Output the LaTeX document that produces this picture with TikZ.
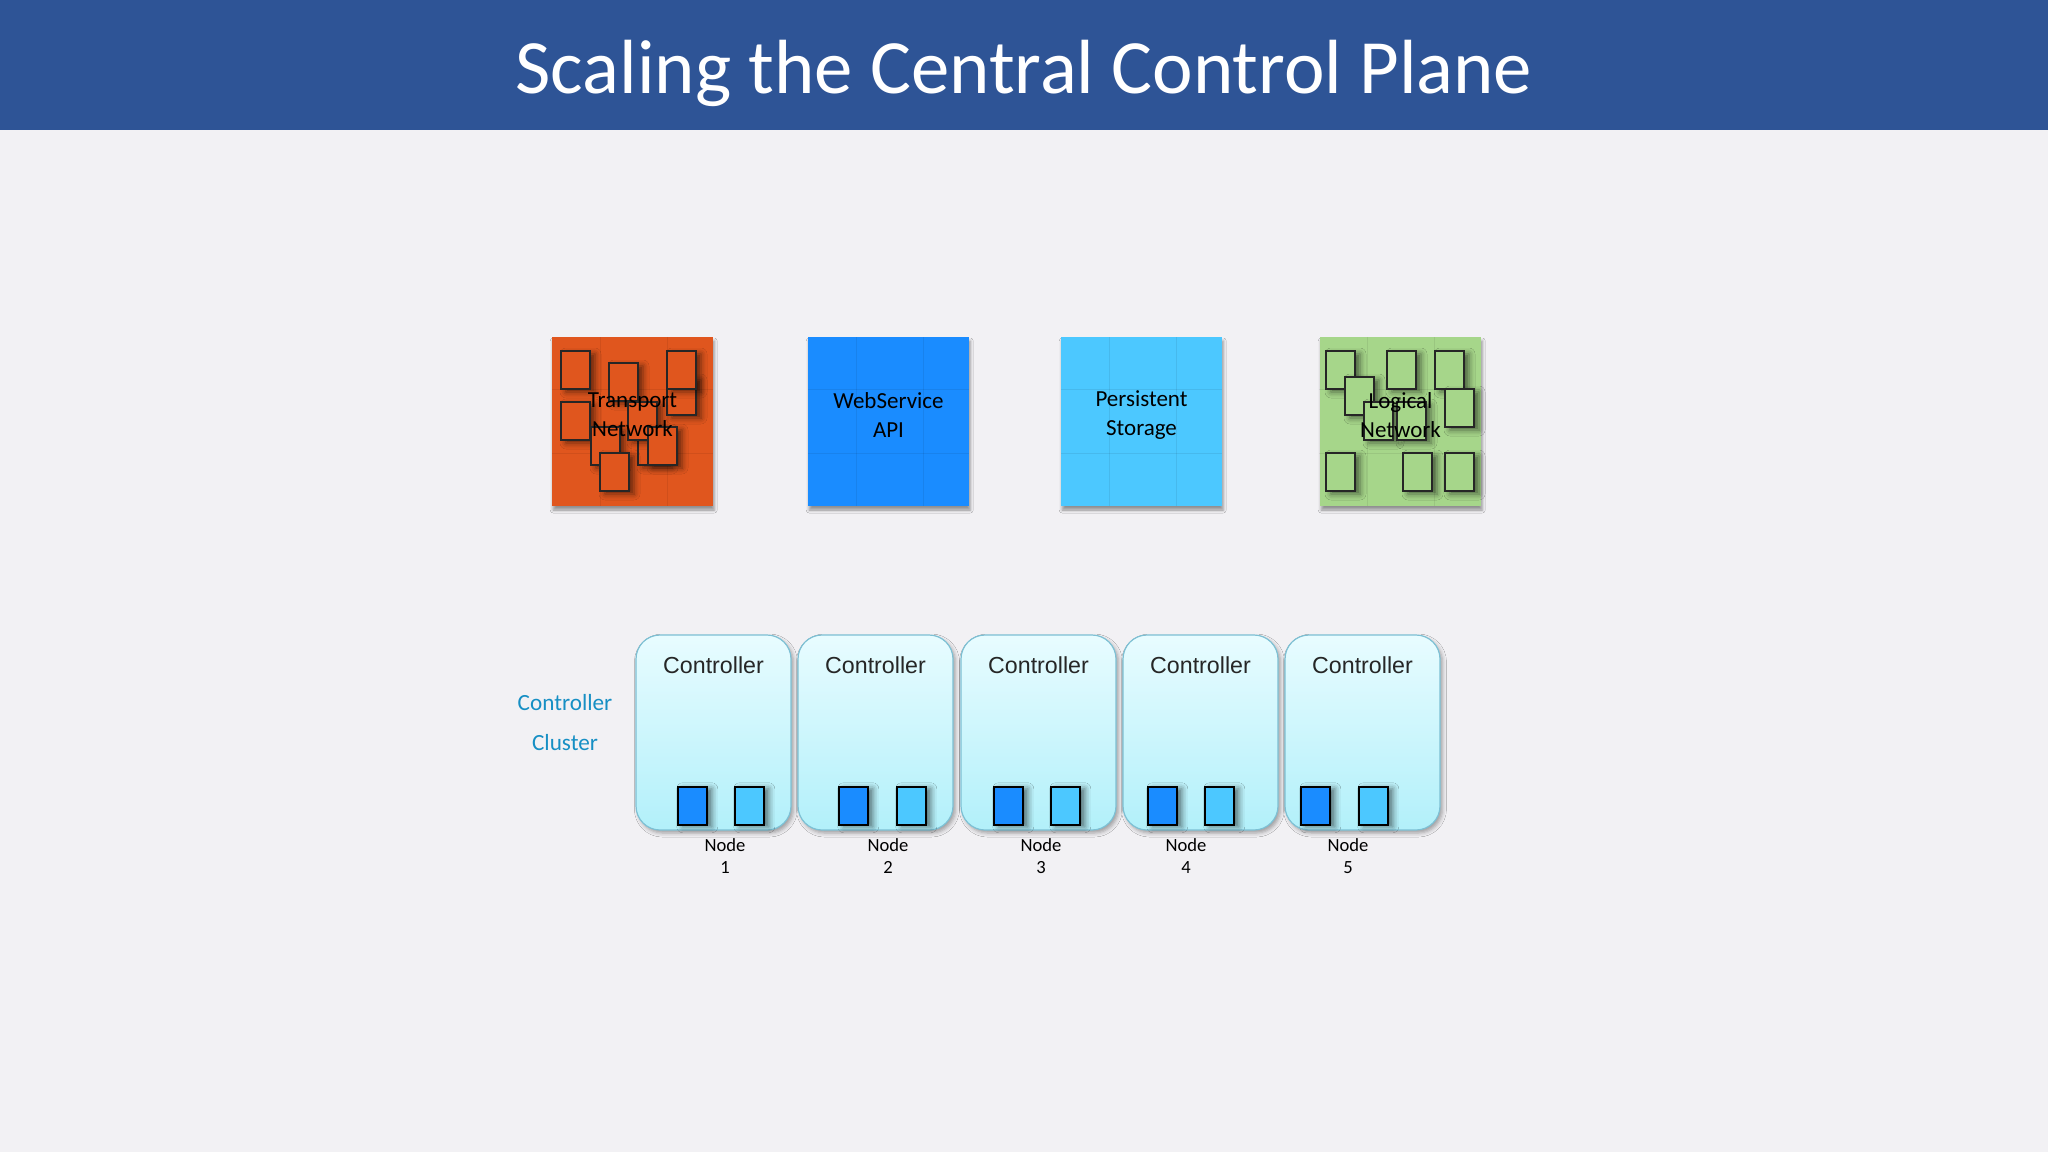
\documentclass[tikz,border=0pt]{standalone}
\usepackage{fontspec}
\setmainfont{Carlito}
\newfontfamily\arialfont{Liberation Sans}
\usetikzlibrary{shadows.blur}
\definecolor{headblue}{RGB}{46,84,150}
\definecolor{pagegray}{RGB}{242,241,244}
\definecolor{tporange}{RGB}{224,86,30}
\definecolor{wsblue}{RGB}{26,140,255}
\definecolor{psblue}{RGB}{76,200,255}
\definecolor{lngreen}{RGB}{166,214,138}
\definecolor{ctltop}{RGB}{232,252,255}
\definecolor{ctlbot}{RGB}{178,240,250}
\definecolor{ctlline}{RGB}{125,192,212}
\definecolor{clustertext}{RGB}{22,143,196}
\tikzset{
  svcbox/.style={minimum width=80.5pt, minimum height=84.5pt, inner sep=0pt,
    blur shadow={shadow xshift=0.6pt, shadow yshift=-2pt, shadow blur radius=1.5pt, shadow opacity=40}},
  svctext/.style={align=center, inner sep=0pt, font=\fontsize{11.5}{14.5}\selectfont},
  gridline/.style={black, opacity=0.07, line width=0.5pt},
  chip/.style={draw=black!85, line width=0.75pt,
    blur shadow={shadow xshift=2.5pt, shadow yshift=-1.5pt, shadow blur radius=3pt, shadow opacity=55}},
  ctlbox/.style={minimum width=77.5pt, minimum height=97.5pt, inner sep=0pt, rounded corners=12pt,
    draw=ctlline, line width=0.6pt, top color=ctltop, bottom color=ctlbot,
    blur shadow={shadow xshift=1.2pt, shadow yshift=-1.5pt, shadow blur radius=2pt, shadow opacity=35}},
  ctltext/.style={inner sep=0pt, text=black!85, font=\arialfont\fontsize{11.6}{14}\selectfont},
  ctlchip/.style={minimum width=14.5pt, minimum height=19pt, inner sep=0pt, draw=black, line width=0.75pt,
    blur shadow={shadow xshift=2.5pt, shadow yshift=-1pt, shadow blur radius=3pt, shadow opacity=55}},
  nodelabel/.style={align=center, inner sep=0pt, font=\fontsize{9.3}{11}\selectfont},
  clusterlbl/.style={align=center, inner sep=0pt, text=clustertext, font=\fontsize{11.6}{20}\selectfont},
  title/.style={inner sep=0pt, text=white, font=\fontsize{38.4}{40}\selectfont}
}
\begin{document}
\begin{tikzpicture}[x=0.5pt,y=0.5pt]
  \useasboundingbox (0,0) rectangle (2048,-1152);
  \fill[pagegray] (0,0) rectangle (2048,-1152);
  % header
  \fill[headblue] (0,0) rectangle (2048,-130);
  \node[title, anchor=base] (heading) at (1024,-93) {Scaling the Central Control Plane};

  % service boxes
  \node[svcbox, fill=tporange] (transport) at (632.5,-421.5) {};
  \node[svcbox, fill=wsblue] (webservice) at (888.5,-421.5) {};
  \node[svcbox, fill=psblue] (storage) at (1141.5,-421.5) {};
  \node[svcbox, fill=lngreen] (logical) at (1400.5,-421.5) {};
  \foreach \bx in {552,808,1061,1319}{
    \draw[gridline] (\bx+48,-337) -- ++(0,-169);
    \draw[gridline] (\bx+115,-337) -- ++(0,-169);
    \draw[gridline] (\bx,-389) -- ++(161,0);
    \draw[gridline] (\bx,-453) -- ++(161,0);
  }

  % transport chips
  \foreach \px/\py in {561/351, 609/363, 667/377, 667/351, 561/402, 591/427, 638/427, 628/402, 648/427, 600/453}
    \draw[chip, fill=tporange] (\px,-\py) rectangle ++(29,-38);
  % logical chips
  \foreach \px/\py in {1326/351, 1345/377, 1387/351, 1435/351, 1445/389, 1364/402, 1397/402, 1326/453, 1403/453, 1445/453}
    \draw[chip, fill=lngreen] (\px,-\py) rectangle ++(29,-38);

  \node[svctext] (transportlbl) at (632.5,-415) {Transport\\Network};
  \node[svctext] (webservicelbl) at (888.5,-415) {WebService\\API};
  \node[svctext] (storagelbl) at (1141.5,-415) {Persistent\\Storage};
  \node[svctext] (logicallbl) at (1400.5,-415) {Logical\\Network};

  % controller cluster
  \node[clusterlbl] (cluster) at (565,-723) {Controller\\Cluster};
  \foreach \i/\cx/\dk/\lt/\nx in {1/713.5/677/734/725, 2/875.5/838/896/888, 3/1038.5/993/1050/1041, 4/1200.5/1147/1204/1186, 5/1362.5/1300/1358/1348}{
    \node[ctlbox] (ctl\i) at (\cx,-732.5) {};
    \node[ctltext] (ctltitle\i) at (\cx,-665) {Controller};
    \node[ctlchip, fill=wsblue, anchor=north west] (ctla\i) at (\dk,-786) {};
    \node[ctlchip, fill=psblue, anchor=north west] (ctlb\i) at (\lt,-786) {};
    \node[nodelabel] (node\i) at (\nx,-856) {Node\\\i};
  }
\end{tikzpicture}
\end{document}
